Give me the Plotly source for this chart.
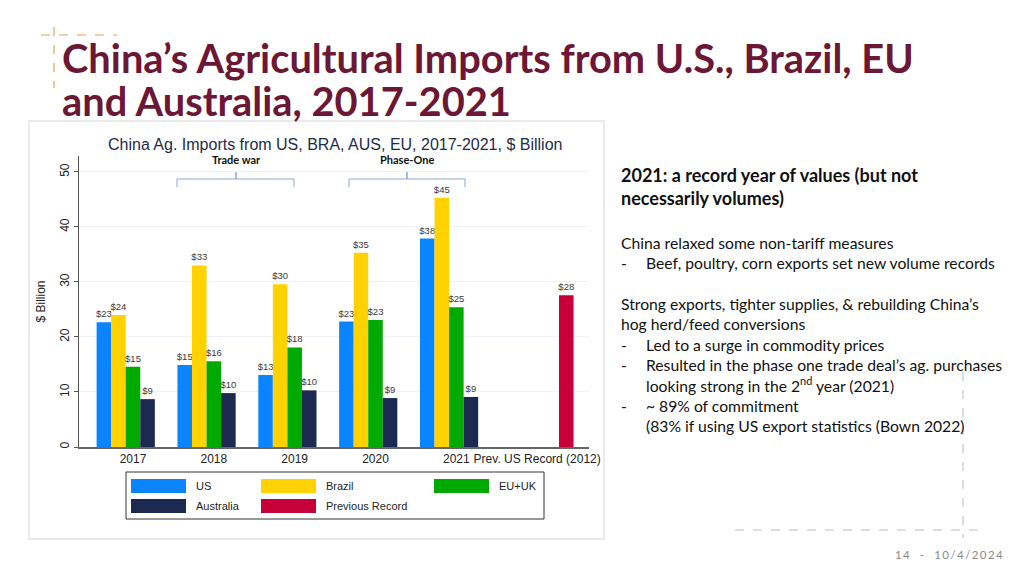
import plotly.graph_objects as go

# ---------------- data ----------------
categories = ["2017", "2018", "2019", "2020", "2021", "Prev. US Record (2012)"]
series_names = ["US", "Brazil", "EU+UK", "Australia", "Previous Record"]
us = [22.7, 14.9, 13.1, 22.8, 37.9, None]
brazil = [24.0, 33.0, 29.6, 35.3, 45.3, None]
eu_uk = [14.6, 15.6, 18.1, 23.1, 25.4, None]
australia = [8.7, 9.8, 10.3, 8.9, 9.1, None]
prev_record = [None, None, None, None, None, 27.6]
y_ticks = [0, 10, 20, 30, 40, 50]

colors = ["#0A84FF", "#FFD200", "#00AA00", "#1C2A52", "#C8003A"]
series_values = [us, brazil, eu_uk, australia, prev_record]

# plot-area pixel frame (1024x576 page)
W, H = 1024, 576
L, R, T, B = 79, 589, 156, 447

def px(x):
    return (x - L) / (R - L)

def py(y):
    return (B - y) / (B - T)

AX_FONT = "Arial, Liberation Sans, sans-serif"
SLIDE_FONT = "Lato, Open Sans, sans-serif"

fig = go.Figure()
for name, vals, col in zip(series_names, series_values, colors):
    fig.add_trace(go.Bar(
        x=categories, y=vals, name=name,
        marker=dict(color=col, line=dict(width=0)),
        text=["" if v is None else "$%d" % round(v) for v in vals],
        textposition="outside", constraintext="none", cliponaxis=False,
        textfont=dict(family=AX_FONT, size=9.5, color="#3A3A3A"),
        showlegend=False, hoverinfo="skip",
    ))

fig.update_layout(
    width=W, height=H,
    margin=dict(l=L, r=W - R, t=T, b=H - B, autoexpand=False),
    paper_bgcolor="white", plot_bgcolor="white",
    barmode="group", bargap=0.1, bargroupgap=0.0,
    font=dict(family=AX_FONT, color="#222222"),
    xaxis=dict(
        type="category", range=[-0.668, 5.641],
        showline=True, linecolor="#666666", linewidth=1.5,
        ticks="", showgrid=False,
        tickfont=dict(family=AX_FONT, size=12, color="#222222"),
    ),
    yaxis=dict(
        range=[0, 52.9], tickvals=y_ticks, tickangle=-90,
        showline=True, linecolor="#555555", linewidth=1.2,
        ticks="outside", ticklen=4, tickcolor="#555555",
        showgrid=True, gridcolor="#EEF2F6", gridwidth=1,
        zeroline=False,
        tickfont=dict(family=AX_FONT, size=12, color="#222222"),
        title=dict(text="$ Billion", font=dict(family=AX_FONT, size=12, color="#222222"), standoff=9),
    ),
)

shapes = []
ann = []

# chart panel border
shapes.append(dict(type="rect", xref="paper", yref="paper",
                   x0=px(29), x1=px(604), y0=py(121), y1=py(539),
                   line=dict(color="#E4E4E4", width=1.5), fillcolor="rgba(0,0,0,0)", layer="below"))

# chart subtitle
ann.append(dict(text="China Ag. Imports from US, BRA, AUS, EU, 2017-2021, $ Billion",
                x=px(335), y=py(145), xref="paper", yref="paper", showarrow=False,
                xanchor="center", yanchor="middle",
                font=dict(family=AX_FONT, size=16, color="#1E2B4A")))

# brackets
br_col = "#8EA6D2"
for (x0, x1, xc, label) in [(177, 294, 236, "Trade war"), (349, 465, 407, "Phase-One")]:
    path = "M {a},{b} L {a},{c} L {d},{c} L {d},{e} L {d},{c} L {f},{c} L {f},{b}".format(
        a=px(x0), b=py(187), c=py(179), d=px(xc), e=py(172), f=px(x1))
    shapes.append(dict(type="path", xref="paper", yref="paper", path=path,
                       line=dict(color=br_col, width=1)))
    ann.append(dict(text="<b>%s</b>" % label, x=px(xc), y=py(159), xref="paper", yref="paper",
                    showarrow=False, xanchor="center", yanchor="middle",
                    font=dict(family=SLIDE_FONT, size=11, color="#111111")))

# legend (drawn manually)
shapes.append(dict(type="rect", xref="paper", yref="paper",
                   x0=px(126), x1=px(544), y0=py(472), y1=py(519),
                   line=dict(color="#333333", width=1), fillcolor="white"))
leg_pos = [(131, 479), (261, 479), (434, 479), (131, 499), (261, 499)]
for (sx, sy), name, col in zip(leg_pos, series_names, colors):
    shapes.append(dict(type="rect", xref="paper", yref="paper",
                       x0=px(sx), x1=px(sx + 55), y0=py(sy), y1=py(sy + 14),
                       line=dict(width=0), fillcolor=col))
    ann.append(dict(text=name, x=px(sx + 63), y=py(sy + 7), xref="paper", yref="paper",
                    showarrow=False, xanchor="left", yanchor="middle",
                    font=dict(family=AX_FONT, size=11, color="#222222")))

# slide title
title_col = "#6B1735"
ann.append(dict(text="<b>China’s Agricultural Imports from U.S., Brazil, EU</b>",
                x=px(60), y=py(57), xref="paper", yref="paper", showarrow=False,
                xanchor="left", yanchor="middle",
                font=dict(family=SLIDE_FONT, size=39.8, color=title_col)))
ann.append(dict(text="<b>and Australia, 2017-2021</b>",
                x=px(60), y=py(100), xref="paper", yref="paper", showarrow=False,
                xanchor="left", yanchor="middle",
                font=dict(family=SLIDE_FONT, size=39.8, color=title_col)))

# decorative orange dashed cross
shapes.append(dict(type="line", xref="paper", yref="paper", x0=px(41), x1=px(117), y0=py(35), y1=py(35),
                   line=dict(color="#F0A04B", width=1.2, dash="dash")))
shapes.append(dict(type="line", xref="paper", yref="paper", x0=px(54), x1=px(54), y0=py(27), y1=py(88),
                   line=dict(color="#F0A04B", width=1.2, dash="dash")))

# decorative gray dashed lines bottom right
shapes.append(dict(type="line", xref="paper", yref="paper", x0=px(735), x1=px(978), y0=py(530), y1=py(530),
                   line=dict(color="#BBBBBB", width=1, dash="dash")))
shapes.append(dict(type="line", xref="paper", yref="paper", x0=px(963), x1=px(963), y0=py(372), y1=py(538),
                   line=dict(color="#BBBBBB", width=1, dash="dash")))

# right-hand text
txt_lines = [
    (619, 175, "<b>2021: a record year of values (but not</b>", 18),
    (619, 198, "<b>necessarily volumes)</b>", 18),
    (619, 243, "China relaxed some non-tariff measures", 15.7),
    (619, 263, "-", 15.7),
    (644, 263, "Beef, poultry, corn exports set new volume records", 15.7),
    (619, 304, "Strong exports, tighter supplies, &amp; rebuilding China’s", 15.7),
    (619, 324, "hog herd/feed conversions", 15.7),
    (619, 345, "-", 15.7),
    (644, 345, "Led to a surge in commodity prices", 15.7),
    (619, 365, "-", 15.7),
    (644, 365, "Resulted in the phase one trade deal’s ag. purchases", 15.7),
    (644, 384, "looking strong in the 2<sup>nd</sup> year (2021)", 15.7),
    (619, 406, "-", 15.7),
    (644, 406, "~ 89% of commitment", 15.7),
    (644, 426, "(83% if using US export statistics (Bown 2022)", 15.7),
]
for x, y, t, s in txt_lines:
    ann.append(dict(text=t, x=px(x), y=py(y), xref="paper", yref="paper", showarrow=False,
                    xanchor="left", yanchor="middle",
                    font=dict(family=SLIDE_FONT, size=s, color="#111111")))

# page footer
ann.append(dict(text="1\u20094\u2003\u2009-\u2003\u20091\u20090\u2009/\u20094\u2009/\u20092\u20090\u20092\u20094",
                x=px(1005), y=py(554), xref="paper", yref="paper", showarrow=False,
                xanchor="right", yanchor="middle",
                font=dict(family=SLIDE_FONT, size=11.5, color="#8A8A8A")))

fig.update_layout(shapes=shapes, annotations=ann)
fig.write_html("out.html", config={"displayModeBar": False},
               post_script="document.body.style.margin='0px';document.body.style.overflow='hidden';")
